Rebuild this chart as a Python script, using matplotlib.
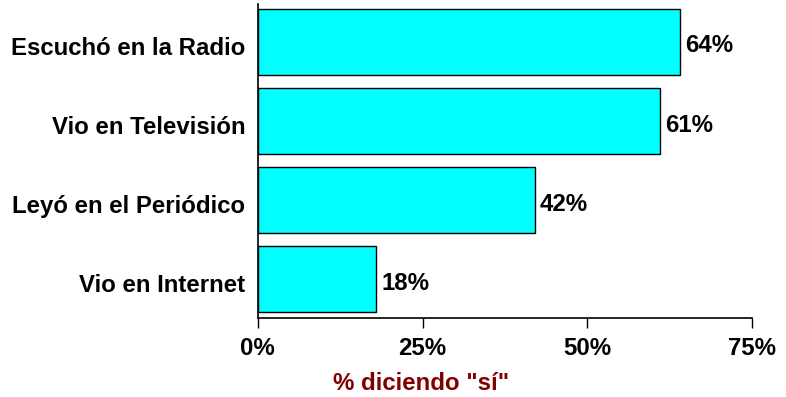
import matplotlib.pyplot as plt
import matplotlib.transforms as mtransforms
import numpy as np

plt.rcParams['font.family'] = ['Liberation Sans', 'DejaVu Sans']
plt.rcParams['font.weight'] = 'bold'

# Data (bottom to top)
categories = ["Vio en Internet", "Leyó en el Periódico", "Vio en Televisión", "Escuchó en la Radio"]
values = [18, 42, 61, 64]
xticks = [0, 25, 50, 75]

fs = 17.3

fig = plt.figure(figsize=(7.86, 3.97), dpi=100)
ax = fig.add_axes([0.328, 0.199, 0.629, 0.791])

# text in the reference sits a few pixels below the bar centres
shift = mtransforms.ScaledTranslation(0, -4 / 100, fig.dpi_scale_trans)

pos = np.arange(len(categories))
bars = ax.barh(pos, values, height=0.83, color="#00FFFF", edgecolor="black", linewidth=1)

for b, v in zip(bars, values):
    ax.text(b.get_width() + 0.8, b.get_y() + b.get_height() / 2, "%d%%" % v,
            ha="left", va="center", fontsize=fs, fontweight="bold",
            transform=ax.transData + shift)

ax.set_xlim(0, 75)
ax.set_ylim(-0.49, 3.48)
ax.set_yticks(pos)
ax.set_yticklabels(categories, fontsize=fs, fontweight="bold")
ax.tick_params(axis="y", length=0, pad=9)
for lbl in ax.get_yticklabels():
    lbl.set_transform(lbl.get_transform() + shift)
ax.set_xticks(xticks)
ax.set_xticklabels(["%d%%" % t for t in xticks], fontsize=fs, fontweight="bold")
ax.tick_params(axis="x", direction="out", length=7, width=1, pad=7)

for s in ("top", "right"):
    ax.spines[s].set_visible(False)
ax.spines["left"].set_linewidth(1.2)
ax.spines["bottom"].set_linewidth(1.2)

fig.text(421 / 786, 1 - 383 / 397, '% diciendo "sí"', ha="center", va="center",
         fontsize=fs, fontweight="bold", color="#800000")

fig.savefig("out.png", dpi=100)
